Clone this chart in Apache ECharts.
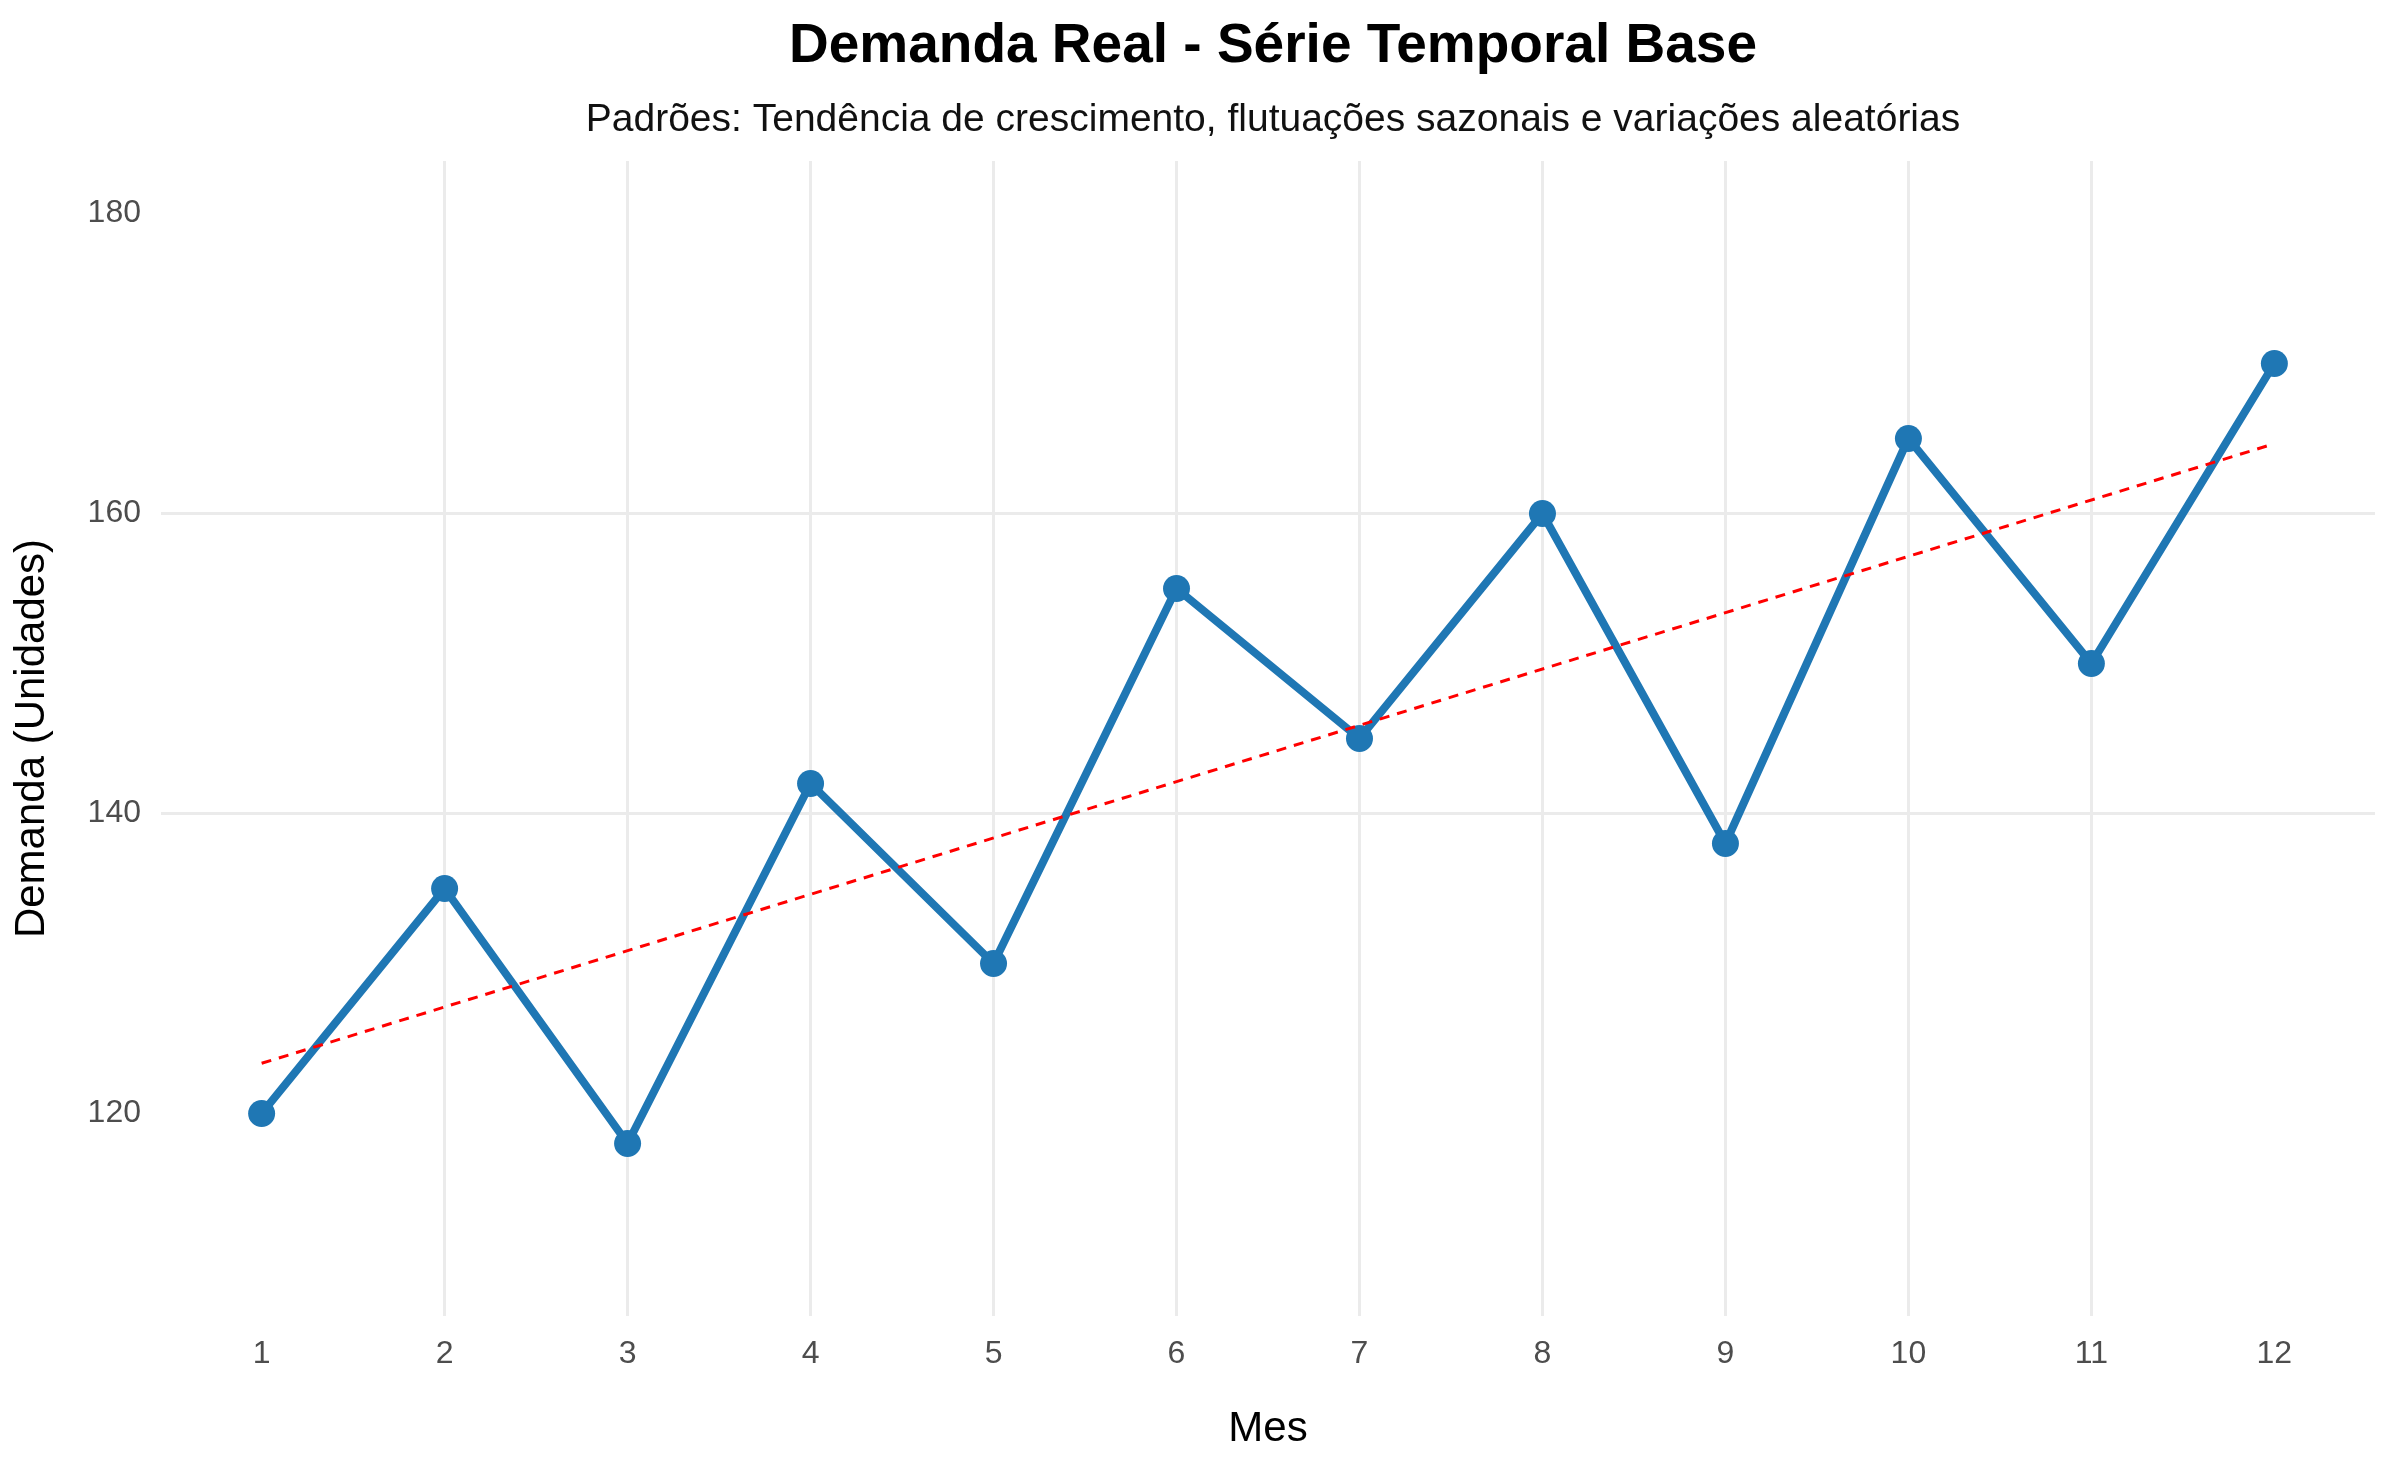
<!DOCTYPE html>
<html><head><meta charset="utf-8">
<script src="https://cdn.jsdelivr.net/npm/echarts@6/dist/echarts.min.js"></script>
<style>html,body{margin:0;background:#fff}#c{width:2400px;height:1483px}</style>
</head><body><div id="c"></div>
<script>
// dados
const meses = [1,2,3,4,5,6,7,8,9,10,11,12]
const demanda = [120,135,118,142,130,155,145,160,138,165,150,170]
const yTicks = [120,140,160,180]

// tendência linear (mínimos quadrados) a partir dos próprios dados
const n = meses.length
const mx = meses.reduce((a,b)=>a+b,0)/n, my = demanda.reduce((a,b)=>a+b,0)/n
let sxy=0, sxx=0
meses.forEach((x,i)=>{ sxy+=(x-mx)*(demanda[i]-my); sxx+=(x-mx)*(x-mx) })
const b = sxy/sxx, a = my - b*mx
const tendencia = [[meses[0], a+b*meses[0]], [meses[n-1], a+b*meses[n-1]]]

const F = 'Arial, "Liberation Sans", sans-serif'
const c = echarts.init(document.getElementById('c'))
c.setOption({
  backgroundColor:'#fff',
  animation:false,
  title:[
    {text:'Demanda Real - Série Temporal Base', left:1268, top:14, textAlign:'center',
     textStyle:{fontFamily:F, fontSize:55, fontWeight:'bold', color:'#000'}},
    {text:'Padrões: Tendência de crescimento, flutuações sazonais e variações aleatórias', left:1268, top:96, textAlign:'center',
     textStyle:{fontFamily:F, fontSize:39, fontWeight:'normal', color:'#111'}}
  ],
  grid:{left:161, right:25, top:161, bottom:167},
  xAxis:{type:'value', min:0.45, max:12.55,
    name:'Mes', nameLocation:'middle', nameGap:92,
    nameTextStyle:{fontFamily:F, fontSize:42, color:'#000'},
    axisLine:{show:false}, axisTick:{show:false, customValues:meses},
    axisLabel:{fontFamily:F, fontSize:32, color:'#4d4d4d', margin:22, customValues:meses},
    splitLine:{showMinLine:false, showMaxLine:false, lineStyle:{color:'#ebebeb', width:3}}},
  yAxis:{type:'value', min:106.5, max:183.5,
    name:'Demanda (Unidades)', nameLocation:'middle', nameGap:108,
    nameTextStyle:{fontFamily:F, fontSize:42, color:'#000'},
    axisLine:{show:false}, axisTick:{show:false, customValues:yTicks},
    axisLabel:{fontFamily:F, fontSize:32, color:'#4d4d4d', margin:20, customValues:yTicks},
    splitLine:{showMinLine:false, showMaxLine:false, lineStyle:{color:'#ebebeb', width:3}}},
  series:[
    {type:'line', data:meses.map((x,i)=>[x,demanda[i]]), symbol:'circle', symbolSize:27,
     lineStyle:{color:'#1f77b4', width:8}, itemStyle:{color:'#1f77b4'}, z:3},
    {type:'line', data:tendencia, symbol:'none',
     lineStyle:{color:'#ff0000', width:3, type:[10,8]}, z:4}
  ]
})
</script></body></html>
